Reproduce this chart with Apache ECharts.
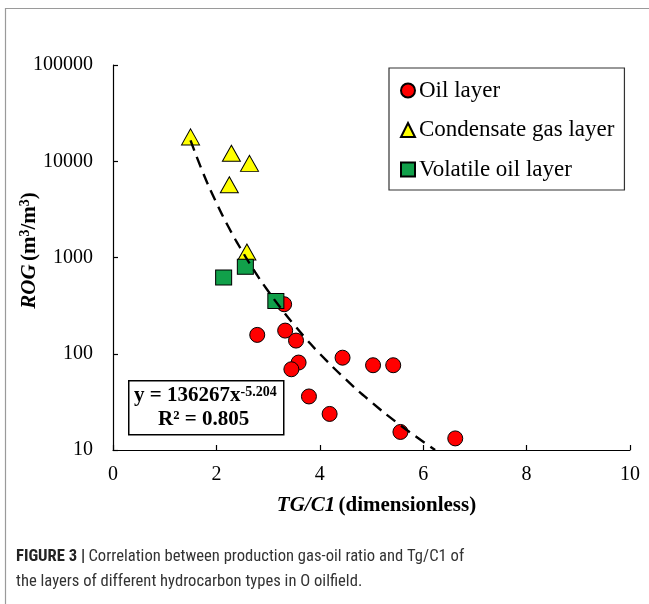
<!DOCTYPE html>
<html>
<head>
<meta charset="utf-8">
<script src="https://cdn.jsdelivr.net/npm/echarts@6/dist/echarts.min.js"></script>
<style>
html,body{margin:0;padding:0;background:#fff;}
#chart{width:649px;height:604px;}
</style>
</head>
<body>
<div id="chart"></div>
<script>
// ---- data ----
const oilX = [3.31, 2.79, 3.33, 3.54, 3.59, 3.45, 4.44, 5.03, 5.42, 3.79, 4.19, 5.56, 6.62];
const oilY = [327, 157, 174, 137, 81, 69, 91, 76, 76, 36, 23.7, 15.4, 13.2];

const condX = [1.50, 2.29, 2.64, 2.25, 2.59];
const condY = [17900, 12100, 9500, 5700, 1140];

const volX = [2.56, 2.14, 3.15];
const volY = [800, 620, 353];

const trendX = [1.5, 1.75, 2, 2.25, 2.5, 2.75, 3, 3.25, 3.5, 3.75, 4, 4.5, 5, 5.5, 6, 6.23];
const trendY = [16500, 7400, 3700, 2000, 1160, 705, 448, 296, 201, 140, 100, 54.3, 31.4, 19.1, 12.2, 10];

const xTicks = [0, 2, 4, 6, 8, 10];
const seriesNames = ['Oil layer', 'Condensate gas layer', 'Volatile oil layer'];

function pairs(xs, ys) { return xs.map((x, i) => [x, ys[i]]); }

const serif = '"Liberation Serif", "Times New Roman", serif';
const capFont = '"Liberation Sans Narrow", "Roboto Condensed", Arial, sans-serif';
const chart = echarts.init(document.getElementById('chart'), null, {renderer: 'canvas'});

chart.setOption({
  animation: false,
  backgroundColor: '#fff',
  grid: {left: 113, right: 19, top: 65, bottom: 154, containLabel: false, outerBoundsMode: 'none'},
  xAxis: {
    type: 'value', min: xTicks[0], max: xTicks[xTicks.length - 1], interval: 2,
    axisLine: {lineStyle: {color: '#000', width: 1.2}},
    axisTick: {inside: true, length: 5, lineStyle: {color: '#000', width: 1.2}},
    splitLine: {show: false},
    axisLabel: {color: '#000', fontFamily: serif, fontSize: 20, margin: 15},
    name: '{i|TG/C1} {b|(dimensionless)}',
    nameLocation: 'middle', nameGap: 45,
    nameTextStyle: {
      padding: [0, 0, 0, 10],
      rich: {
        i: {fontFamily: serif, fontSize: 21, fontWeight: 'bold', fontStyle: 'italic', color: '#000'},
        b: {fontFamily: serif, fontSize: 21, fontWeight: 'bold', color: '#000'}
      }
    }
  },
  yAxis: {
    type: 'log', logBase: 10, min: 10, max: 100000,
    axisLine: {lineStyle: {color: '#000', width: 1.2}},
    axisTick: {inside: true, length: 5, lineStyle: {color: '#000', width: 1.2}},
    minorTick: {show: false},
    splitLine: {show: false},
    axisLabel: {color: '#000', fontFamily: serif, fontSize: 20, margin: 20,
      formatter: v => String(Math.round(v))},
    name: '{i|ROG} {b|(m}{s|3}{b|/m}{s|3}{b|)}',
    nameLocation: 'middle', nameGap: 71, nameRotate: 90, nameMoveOverlap: false,
    nameTextStyle: {
      padding: [0, 0, 0, 14],
      rich: {
        i: {fontFamily: serif, fontSize: 21, fontWeight: 'bold', fontStyle: 'italic', color: '#000', lineHeight: 24},
        b: {fontFamily: serif, fontSize: 21, fontWeight: 'bold', color: '#000', lineHeight: 24},
        s: {fontFamily: serif, fontSize: 14, fontWeight: 'bold', color: '#000', verticalAlign: 'top', lineHeight: 24}
      }
    }
  },
  legend: {
    orient: 'vertical', left: 389, top: 68,
    data: seriesNames,
    backgroundColor: '#fff',
    borderColor: '#333', borderWidth: 1.2,
    padding: [11, 10, 9, 11],
    itemGap: 16.5, itemWidth: 14, itemHeight: 14,
    textStyle: {fontFamily: serif, fontSize: 23, color: '#000', lineHeight: 22, padding: [0, 0, 0, -1]}
  },
  series: [
    {
      name: seriesNames[0], type: 'scatter', symbol: 'circle', symbolSize: 15, z: 2,
      itemStyle: {color: '#ff0000', borderColor: '#000', borderWidth: 1, opacity: 1},
      data: pairs(oilX, oilY)
    },
    {
      name: seriesNames[1], type: 'scatter', symbol: 'triangle', symbolSize: [18, 16], z: 3,
      itemStyle: {color: '#ffff00', borderColor: '#000', borderWidth: 1, opacity: 1},
      data: pairs(condX, condY)
    },
    {
      name: seriesNames[2], type: 'scatter', symbol: 'rect', symbolSize: [16, 15], z: 4,
      itemStyle: {color: '#11a04a', borderColor: '#000', borderWidth: 1, opacity: 1},
      data: pairs(volX, volY)
    },
    {
      name: 'Power trend', type: 'line', smooth: true, symbol: 'none', z: 5,
      lineStyle: {color: '#000', width: 2.4, type: [11, 7]},
      data: pairs(trendX, trendY), silent: true
    }
  ],
  graphic: [
    {
      type: 'rect', left: 3, top: 6, z: 0, silent: true,
      shape: {width: 700, height: 700},
      style: {fill: 'none', stroke: '#9a9a9a', lineWidth: 1.2}
    },
    {
      type: 'rect', left: 128, top: 380, z: 10,
      shape: {width: 155, height: 54},
      style: {fill: '#fff', stroke: '#000', lineWidth: 1.5}
    },
    {
      type: 'text', left: 134, top: 385, z: 11,
      style: {
        text: '{b|y = 136267x}{s|-5.204}',
        rich: {
          b: {fontFamily: serif, fontSize: 21, fontWeight: 'bold', fill: '#000', lineHeight: 22},
          s: {fontFamily: serif, fontSize: 14, fontWeight: 'bold', fill: '#000', verticalAlign: 'top', lineHeight: 22}
        }
      }
    },
    {
      type: 'text', left: 158, top: 409, z: 11,
      style: {text: 'R² = 0.805', fontFamily: serif, fontSize: 21, fontWeight: 'bold', fill: '#000'}
    },
    {
      type: 'text', left: 16, top: 548, z: 11,
      style: {
        text: '{b|FIGURE 3 |} {n|Correlation between production gas-oil ratio and Tg/C1 of}\n{n|the layers of different hydrocarbon types in O oilfield.}',
        rich: {
          b: {fontFamily: capFont, fontSize: 16.6, fontWeight: 'bold', fill: '#222', lineHeight: 25},
          n: {fontFamily: capFont, fontSize: 16.6, fill: '#333', lineHeight: 25}
        }
      }
    }
  ]
});
</script>
</body>
</html>
